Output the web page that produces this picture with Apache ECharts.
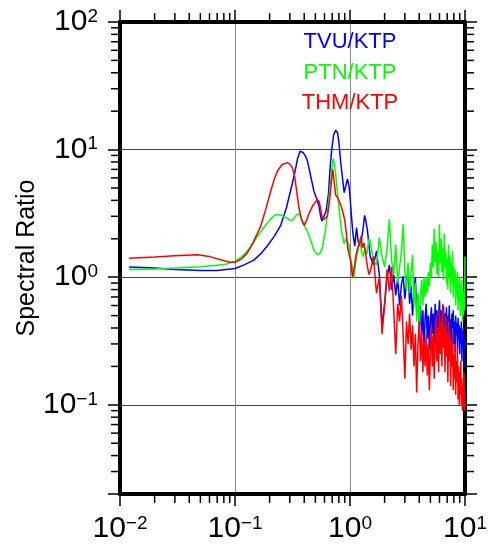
<!DOCTYPE html>
<html><head><meta charset="utf-8">
<script src="https://cdn.jsdelivr.net/npm/echarts@6.0.0/dist/echarts.min.js"></script>
<style>html,body{margin:0;padding:0;background:#fff}#c{width:488px;height:545px}</style>
</head><body><div id="c"></div>
<script>
// ---- data (frequency in Hz, spectral ratio) ----
const seriesNames = ['TVU/KTP', 'PTN/KTP', 'THM/KTP'];
const xTicks = [0.01, 0.1, 1, 10];
const yTicks = [0.1, 1, 10, 100];

const blueLow = [[0.012,1.2],[0.02,1.18],[0.03,1.15],[0.05,1.13],[0.07,1.13],[0.1,1.17],[0.12,1.25],[0.146,1.36],[0.17,1.55],[0.19,1.75],[0.22,2.1],[0.25,2.55],[0.28,3.5],[0.305,4.8],[0.33,6.5],[0.35,8.5],[0.368,9.7],[0.39,9.5],[0.41,8.9],[0.426,8.2],[0.45,6.5],[0.486,4.7],[0.515,4.1],[0.538,3.6],[0.555,3.0],[0.57,2.75],[0.59,2.85],[0.62,3.3],[0.65,4.5],[0.67,7.0],[0.693,10],[0.72,13],[0.751,14.2],[0.78,13.5],[0.80,11.5],[0.83,8],[0.86,6.0],[0.89,4.6],[0.92,5.2],[0.95,5.9],[0.98,5.2],[1.0,4.3],[1.03,3.0],[1.06,2.2],[1.1,1.75],[1.14,2.45],[1.17,2.0],[1.2,1.75],[1.25,1.9],[1.3,2.4],[1.34,3.05],[1.38,2.7],[1.42,2.3],[1.46,1.8]];
const greenLow = [[0.012,1.15],[0.02,1.16],[0.03,1.18],[0.05,1.21],[0.07,1.24],[0.085,1.27],[0.1,1.33],[0.115,1.45],[0.137,1.72],[0.155,2.05],[0.178,2.45],[0.2,2.8],[0.22,3.05],[0.234,3.1],[0.255,3.05],[0.276,2.95],[0.3,2.8],[0.316,2.8],[0.34,3.05],[0.36,3.15],[0.38,2.85],[0.40,2.55],[0.43,2.25],[0.455,1.95],[0.49,1.6],[0.527,1.5],[0.55,1.55],[0.576,1.72],[0.61,2.3],[0.636,3.1],[0.66,4.4],[0.68,5.7],[0.70,7.5],[0.715,8.5],[0.73,7.8],[0.751,6.4],[0.77,5.0],[0.786,4.2],[0.81,3.2],[0.842,2.33],[0.887,1.83],[0.92,2.0],[0.95,2.07],[0.98,1.8],[1.02,1.35],[1.05,1.2],[1.08,0.98],[1.12,1.3],[1.17,1.6],[1.22,2.0],[1.26,1.6],[1.3,1.45],[1.35,1.7],[1.4,1.5],[1.46,2.0]];
const redLow = [[0.012,1.41],[0.02,1.44],[0.03,1.47],[0.047,1.5],[0.06,1.45],[0.075,1.37],[0.09,1.31],[0.1,1.31],[0.115,1.4],[0.128,1.55],[0.145,1.9],[0.167,2.5],[0.185,3.4],[0.204,4.7],[0.22,5.9],[0.234,6.8],[0.255,7.6],[0.285,7.9],[0.3,7.7],[0.316,7.2],[0.33,6.2],[0.345,4.6],[0.36,3.5],[0.38,2.8],[0.40,2.55],[0.42,2.8],[0.44,3.15],[0.48,3.7],[0.52,4.05],[0.54,3.9],[0.556,3.4],[0.575,2.9],[0.60,2.85],[0.636,3.0],[0.66,3.8],[0.69,5.6],[0.708,7.0],[0.73,5.5],[0.751,4.4],[0.78,4.2],[0.80,4.1],[0.83,3.7],[0.87,3.2],[0.90,2.8],[0.93,2.2],[0.96,1.65],[0.99,1.7],[1.02,1.3],[1.05,1.0],[1.09,1.2],[1.13,1.5],[1.18,1.75],[1.22,1.85],[1.25,2.1],[1.28,1.7],[1.32,1.85],[1.37,1.5],[1.41,1.25],[1.46,1.05]];

const hfFreq = [1.5,1.6,1.7,1.8,1.9,2.0,2.1,2.2,2.3,2.4,2.5,2.6,2.7,2.8,2.9,3.0,3.1,3.2,3.3,3.4,3.5,3.6,3.7,3.8,3.9,4.0,4.1,4.2,4.3,4.4,4.5,4.6,4.7,4.8,4.9,5.0,5.1,5.2,5.3,5.4,5.5,5.6,5.7,5.8,5.9,6.0,6.1,6.2,6.3,6.4,6.5,6.6,6.7,6.8,6.9,7.0,7.1,7.2,7.3,7.4,7.5,7.6,7.7,7.8,7.9,8.0,8.1,8.2,8.3,8.4,8.5,8.6,8.7,8.8,8.9,9.0,9.1,9.2,9.3,9.4,9.5,9.6,9.7,9.8,9.9,10.0];
const blueHigh = [1.45,1.25,1.6,1.05,0.42,0.62,1.0,1.25,0.8,1.05,0.72,0.98,0.6,0.88,1.02,0.68,0.9,1.15,0.62,0.85,0.5,0.78,1.0,0.55,0.72,0.42,0.6,0.35,0.55,0.28,0.48,0.62,0.33,0.5,0.27,0.45,0.58,0.36,0.52,0.3,0.62,0.42,0.55,0.32,0.5,0.66,0.4,0.55,0.3,0.48,0.6,0.35,0.52,0.42,0.58,0.3,0.5,0.38,0.6,0.34,0.47,0.28,0.52,0.4,0.55,0.3,0.45,0.26,0.5,0.35,0.44,0.27,0.48,0.33,0.42,0.25,0.4,0.3,0.45,0.22,0.38,0.28,0.4,0.2,0.33,0.29];
const greenHigh = [1.9,1.35,1.25,2.05,1.45,1.2,1.65,2.85,1.35,1.05,1.8,0.9,1.2,1.6,2.6,1.1,0.8,1.3,0.75,1.1,1.5,0.6,0.9,0.45,0.75,0.38,0.7,0.95,0.6,1.0,0.7,1.0,0.75,1.1,0.85,1.3,1.0,1.8,1.2,2.4,1.3,1.9,1.05,1.6,1.0,2.6,1.3,2.0,1.1,1.7,0.95,2.2,1.2,1.6,0.9,1.4,0.8,1.8,1.0,1.5,0.75,1.3,0.9,1.6,0.7,1.2,0.85,1.15,0.6,1.0,0.7,1.1,0.55,0.9,0.65,1.0,0.5,0.85,0.6,0.95,0.45,0.75,0.5,0.8,0.55,1.45];
const redHigh = [1.1,1.45,0.75,1.0,0.36,0.6,1.15,0.78,1.2,0.55,0.25,0.62,0.45,0.72,0.35,0.16,0.45,0.3,0.52,0.27,0.42,0.2,0.36,0.125,0.3,0.45,0.22,0.38,0.18,0.32,0.2,0.36,0.17,0.3,0.13,0.25,0.42,0.2,0.35,0.16,0.3,0.5,0.22,0.4,0.18,0.55,0.25,0.45,0.2,0.62,0.28,0.4,0.18,0.5,0.24,0.36,0.15,0.45,0.22,0.34,0.14,0.3,0.2,0.38,0.13,0.25,0.16,0.3,0.12,0.22,0.15,0.28,0.11,0.2,0.1,0.18,0.12,0.22,0.1,0.16,0.09,0.14,0.1,0.18,0.09,0.12];

const colors = ['#0000ff', '#00ff00', '#ff0000'];
const FONT = 'Liberation Sans, Arial, Helvetica, sans-serif';

function join(low, high) { return low.concat(hfFreq.map((f, i) => [f, high[i]])); }
const seriesData = [join(blueLow, blueHigh), join(greenLow, greenHigh), join(redLow, redHigh)];

const chart = echarts.init(document.getElementById('c'), null, { renderer: 'canvas' });

function powLabel(v) {
  const l = Math.log10(v);
  const e = Math.round(l);
  if (Math.abs(l - e) > 1e-6) return '';
  return '{b|10}{s|' + (e < 0 ? '\u2212' + (-e) : String(e)) + '}';
}
const rich = {
  b: { fontSize: 30, fontFamily: FONT, color: '#000', lineHeight: 30 },
  s: { fontSize: 19, fontFamily: FONT, color: '#000', lineHeight: 18, verticalAlign: 'top' }
};
const frameLine = { show: true, onZero: false, lineStyle: { color: '#000', width: 4 } };
const majorTick = { show: true, inside: false, length: 12, lineStyle: { color: '#000', width: 1.5 } };

function xAx(pos, showLabel) {
  return {
    type: 'log', logBase: 10, min: 0.01, max: 10, position: pos, gridIndex: 0,
    axisLine: frameLine, axisTick: majorTick,
    axisLabel: { show: showLabel, formatter: powLabel, rich: rich, margin: 20, showMinLabel: true, showMaxLabel: true, hideOverlap: false },
    splitLine: { show: showLabel, lineStyle: { color: '#888', width: 1 } },
    minorTick: { show: false }, minorSplitLine: { show: false }
  };
}
function yAx(pos, showLabel) {
  return {
    type: 'log', logBase: 10, min: 0.02, max: 100, position: pos, gridIndex: 0,
    name: showLabel ? 'Spectral Ratio' : '', nameLocation: 'middle', nameGap: 80, nameRotate: 90,
    nameMoveOverlap: false,
    nameTextStyle: { fontSize: 25, fontFamily: FONT, color: '#000' },
    axisLine: frameLine, axisTick: majorTick,
    axisLabel: { show: showLabel, formatter: powLabel, rich: rich, margin: 22, showMinLabel: true, showMaxLabel: true, hideOverlap: false },
    splitLine: { show: showLabel, lineStyle: { color: '#444', width: 1 } },
    minorTick: { show: false }, minorSplitLine: { show: false }
  };
}

chart.setOption({
  animation: false,
  backgroundColor: '#fff',
  grid: { left: 120, right: 23, top: 22, bottom: 51, containLabel: false, outerBoundsMode: 'none' },
  xAxis: [xAx('bottom', true), xAx('top', false)],
  yAxis: [yAx('left', true), yAx('right', false)],
  series: seriesNames.map((n, i) => ({
    name: n, type: 'line', xAxisIndex: 0, yAxisIndex: 0, data: seriesData[i],
    showSymbol: false, symbol: 'none', smooth: false, clip: true,
    lineStyle: { color: colors[i], width: 1.5 }, z: 3 + i
  }))
});

// minor ticks (2..9 x 10^k) and labels placed through the axes' own scales
const g = [];
const px = v => chart.convertToPixel({ xAxisIndex: 0 }, v);
const py = v => chart.convertToPixel({ yAxisIndex: 0 }, v);
const L = px(0.01), R = px(10), T = py(100), B = py(0.02);
const tickStyle = { stroke: '#000', lineWidth: 1.5 };
const ML = 7;
for (let k = -2; k <= 0; k++) for (let m = 2; m <= 9; m++) {
  const x = px(m * Math.pow(10, k));
  g.push({ type: 'line', shape: { x1: x, y1: B, x2: x, y2: B + ML + 2 }, style: tickStyle, silent: true });
  g.push({ type: 'line', shape: { x1: x, y1: T, x2: x, y2: T - ML - 2 }, style: tickStyle, silent: true });
}
for (let k = -2; k <= 1; k++) for (let m = 2; m <= 9; m++) {
  const v = m * Math.pow(10, k);
  if (v <= 0.02 + 1e-9) continue;
  const y = py(v);
  g.push({ type: 'line', shape: { x1: L, y1: y, x2: L - ML - 2, y2: y }, style: tickStyle, silent: true });
  g.push({ type: 'line', shape: { x1: R, y1: y, x2: R + ML + 2, y2: y }, style: tickStyle, silent: true });
}
const legendY = [41.7, 72.7, 103.3];
seriesNames.forEach((n, i) => {
  g.push({ type: 'text', x: px(1), y: legendY[i], silent: true,
    style: { text: n, fill: colors[i], font: '22px ' + FONT, textAlign: 'center', textVerticalAlign: 'middle' } });
});
chart.setOption({ graphic: g });
</script>
</body></html>
